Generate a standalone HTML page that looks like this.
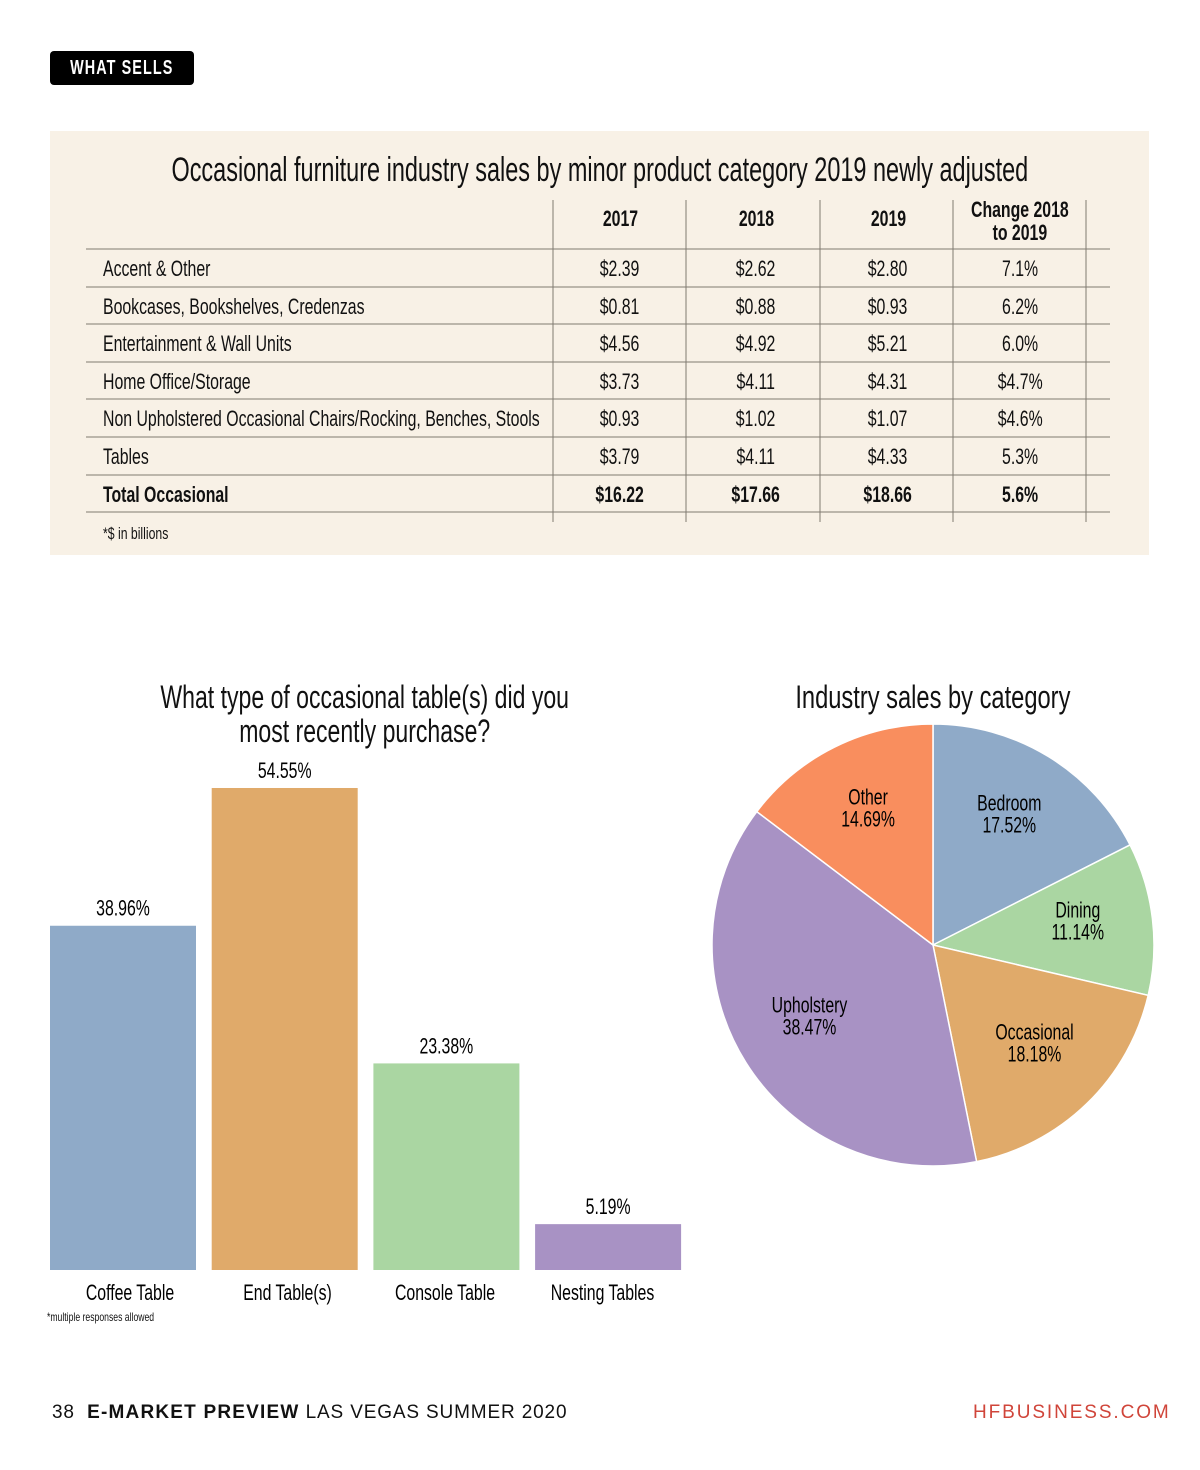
<!DOCTYPE html>
<html><head><meta charset="utf-8"><style>
*{margin:0;padding:0;box-sizing:border-box}
body{width:1200px;height:1470px;background:#fff;position:relative;font-family:"Liberation Sans",sans-serif;color:#111;overflow:hidden}
.a{position:absolute;white-space:nowrap}
.c{text-align:center}
.n{display:inline-block;transform:scaleX(.72);transform-origin:left center}
.c .n{transform-origin:center center}
</style></head><body>
<div class="a c" style="left:50px;top:51px;width:144px;height:34px;background:#000;border-radius:4px;color:#fff;font-weight:bold;font-size:20px;line-height:34px;letter-spacing:1.5px"><span class="n">WHAT SELLS</span></div>

<div class="a" style="left:50px;top:131px;width:1099px;height:424px;background:#f8f1e6"></div>
<div class="a c" style="left:-100px;top:151px;width:1399px;font-size:34px"><span class="n" style="transform:scaleX(.69)">Occasional furniture industry sales by minor product category 2019 newly adjusted</span></div>
<svg class="a" style="left:0;top:0" width="1200" height="560">
<g stroke="#807a70" stroke-width="1">
<line x1="553" y1="200" x2="553" y2="522"/><line x1="686" y1="200" x2="686" y2="522"/><line x1="820" y1="200" x2="820" y2="522"/><line x1="953" y1="200" x2="953" y2="522"/><line x1="1086" y1="200" x2="1086" y2="522"/>
<line x1="86" y1="249" x2="1110" y2="249"/><line x1="86" y1="287" x2="1110" y2="287"/><line x1="86" y1="324" x2="1110" y2="324"/><line x1="86" y1="362" x2="1110" y2="362"/><line x1="86" y1="399" x2="1110" y2="399"/><line x1="86" y1="437" x2="1110" y2="437"/><line x1="86" y1="475" x2="1110" y2="475"/><line x1="86" y1="512" x2="1110" y2="512"/>
</g></svg>
<div id="tbl"></div>
<div class="a" style="left:103px;top:524px;font-size:17px"><span class="n">*$ in billions</span></div>

<div class="a c" style="left:65px;top:680px;width:600px;font-size:32px;line-height:34px"><span class="n" style="transform:scaleX(.72)">What type of occasional table(s) did you<br>most recently purchase?</span></div>
<svg id="bars" class="a" style="left:0;top:740px" width="700" height="600"></svg>
<div class="a" style="left:47px;top:1310px;font-size:12px"><span class="n">*multiple responses allowed</span></div>

<div class="a c" style="left:678px;top:679px;width:510px;font-size:32px"><span class="n" style="transform:scaleX(.74)">Industry sales by category</span></div>
<svg id="pie" class="a" style="left:700px;top:700px" width="480" height="490"></svg>

<div class="a" style="left:52px;top:1402px;font-size:19px;letter-spacing:0.85px">38 &nbsp;<b style="letter-spacing:1.2px">E-MARKET PREVIEW</b> LAS VEGAS SUMMER 2020</div>
<div class="a" style="left:973px;top:1402px;font-size:19px;letter-spacing:1.9px;color:#d0453a">HFBUSINESS.COM</div>

<script>
const rowLabels=["Accent & Other","Bookcases, Bookshelves, Credenzas","Entertainment & Wall Units","Home Office/Storage","Non Upholstered Occasional Chairs/Rocking, Benches, Stools","Tables","Total Occasional"];
const v2017=["$2.39","$0.81","$4.56","$3.73","$0.93","$3.79","$16.22"];
const v2018=["$2.62","$0.88","$4.92","$4.11","$1.02","$4.11","$17.66"];
const v2019=["$2.80","$0.93","$5.21","$4.31","$1.07","$4.33","$18.66"];
const vChange=["7.1%","6.2%","6.0%","$4.7%","$4.6%","5.3%","5.6%"];
const headers=["2017","2018","2019","Change 2018<br>to 2019"];
const colCenters=[620,756,888,1020];
const tbl=document.getElementById('tbl');
function mk(html,style,name){const d=document.createElement('div');d.className='a';d.innerHTML='<span class="n">'+html+'</span>';d.style.cssText=style;


tbl.appendChild(d);}
headers.forEach((h,i)=>{mk(h,`left:${colCenters[i]-70}px;width:140px;text-align:center;top:${i==3?198:207}px;font-size:22px;font-weight:bold;line-height:23px`,'column-header');});
rowLabels.forEach((l,r)=>{const top=256+r*37.6;const b=r==6?'font-weight:bold;':'';
mk(l,`left:103px;top:${top}px;font-size:22px;${b}`,'row-label');
[v2017,v2018,v2019,vChange].forEach((arr,c)=>{mk(arr[r],`left:${colCenters[c]-60}px;width:120px;text-align:center;top:${top}px;font-size:22px;${b}`,'table-cell');});});
document.querySelectorAll('#tbl div').forEach(d=>{if(d.style.textAlign==='center')d.classList.add('c');});

const NS='http://www.w3.org/2000/svg';
function txt(parent,x,y,str,size,name){const t=document.createElementNS(NS,'text');
t.setAttribute('transform',`translate(${x},${y}) scale(0.72,1)`);t.setAttribute('text-anchor','middle');t.setAttribute('font-size',size);t.textContent=str;


parent.appendChild(t);return t;}

// bar chart
const barCats=["Coffee Table","End Table(s)","Console Table","Nesting Tables"];
const barVals=[38.96,54.55,23.38,5.19];
const barColors=["#8faac8","#e0aa6a","#aad6a2","#a892c4"];
const bs=document.getElementById('bars');
const base=530,scale=8.836;
const xPos=i=>50+i*161.7, yPos=v=>base-v*scale;
barVals.forEach((v,i)=>{
const r=document.createElementNS(NS,'rect');r.setAttribute('x',xPos(i));r.setAttribute('y',yPos(v));r.setAttribute('width',146);r.setAttribute('height',base-yPos(v));r.setAttribute('fill',barColors[i]);


bs.appendChild(r);
txt(bs,xPos(i)+73,yPos(v)-10,v.toFixed(2)+'%',22,'bar-value-label');
txt(bs,130+i*157.5,base+30,barCats[i],22,'bar-category-label');});

// pie chart
const pieCats=["Bedroom","Dining","Occasional","Upholstery","Other"];
const pieVals=[17.52,11.14,18.18,38.47,14.69];
const pieColors=["#8faac8","#aad6a2","#e0aa6a","#a892c4","#f98e5e"];
const ps=document.getElementById('pie');const cx=233,cy=245,R=221;
let acc=0;const tot=pieVals.reduce((a,b)=>a+b,0);
pieVals.forEach((v,i)=>{
const a0=acc/tot*2*Math.PI,a1=(acc+v)/tot*2*Math.PI;acc+=v;
const p=a=>[cx+R*Math.sin(a),cy-R*Math.cos(a)];
const [x0,y0]=p(a0),[x1,y1]=p(a1);
const path=document.createElementNS(NS,'path');
path.setAttribute('d',`M${cx},${cy}L${x0},${y0}A${R},${R} 0 ${a1-a0>Math.PI?1:0} 1 ${x1},${y1}Z`);
path.setAttribute('fill',pieColors[i]);path.setAttribute('stroke','#fff');path.setAttribute('stroke-width','1.5');


ps.appendChild(path);
const am=(a0+a1)/2,lr=R*0.66;
const lx=cx+lr*Math.sin(am),ly=cy-lr*Math.cos(am)-6;
txt(ps,lx,ly-4,pieCats[i],22,'pie-label');
txt(ps,lx,ly+18,v.toFixed(2)+'%',22,'pie-value');});
</script>
</body></html>
